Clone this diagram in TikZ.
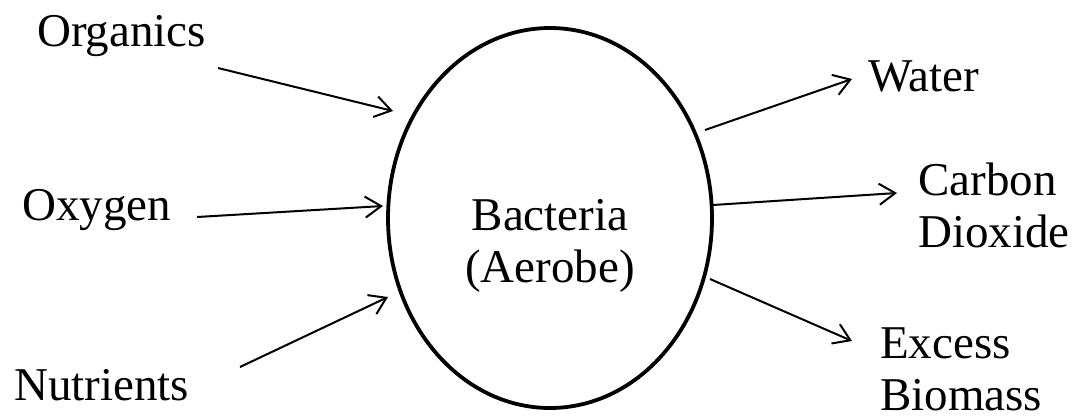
\documentclass[tikz,border=0pt]{standalone}
\usepackage{fontspec}
\setmainfont{Liberation Serif}
\usetikzlibrary{arrows.meta, positioning, shapes.geometric}

\begin{document}
\begin{tikzpicture}[
    x=1pt, y=-1pt,
    label/.style={font=\fontsize{47}{52}\selectfont, inner sep=0pt, align=left},
    cell/.style={ellipse, draw=black, line width=3.8pt, minimum width=324pt, minimum height=380pt, inner sep=0pt},
    flow/.style={-{Straight Barb[length=16pt, width=21pt]}, line width=2pt}
]
\useasboundingbox (0,0) rectangle (1078,417);

% the bacteria cell
\node[cell] (bact) at (550,218) {};
\node[label, align=center, anchor=base] (bact-text) at (550,282) {Bacteria\\(Aerobe)};

% inputs on the left
\node[label, anchor=base west] (organics) at (37,47) {Organics};
\node[label, anchor=base west] (oxygen) at (22,220) {Oxygen};
\node[label, anchor=base west] (nutrients) at (14,400) {Nutrients};

% outputs on the right (base = last line)
\node[label, anchor=base west] (water) at (868,92) {Water};
\node[label, anchor=base west] (carbon) at (918,247) {Carbon\\Dioxide};
\node[label, anchor=base west] (excess) at (880,410) {Excess\\Biomass};

% arrow ends
\coordinate (organics-tail) at (218,68);
\coordinate (organics-head) at (393,111);
\coordinate (oxygen-tail) at (197,217);
\coordinate (oxygen-head) at (383,206);
\coordinate (nutrients-tail) at (240,367);
\coordinate (nutrients-head) at (388,297);
\coordinate (water-tail) at (705,130);
\coordinate (water-head) at (852,79);
\coordinate (carbon-tail) at (713,205);
\coordinate (carbon-head) at (897,193);
\coordinate (excess-tail) at (710,279);
\coordinate (excess-head) at (852,341);

% flows in and out
\draw[flow] (organics-tail) -- (organics-head);
\draw[flow] (oxygen-tail) -- (oxygen-head);
\draw[flow] (nutrients-tail) -- (nutrients-head);
\draw[flow] (water-tail) -- (water-head);
\draw[flow] (carbon-tail) -- (carbon-head);
\draw[flow] (excess-tail) -- (excess-head);

\end{tikzpicture}
\end{document}
